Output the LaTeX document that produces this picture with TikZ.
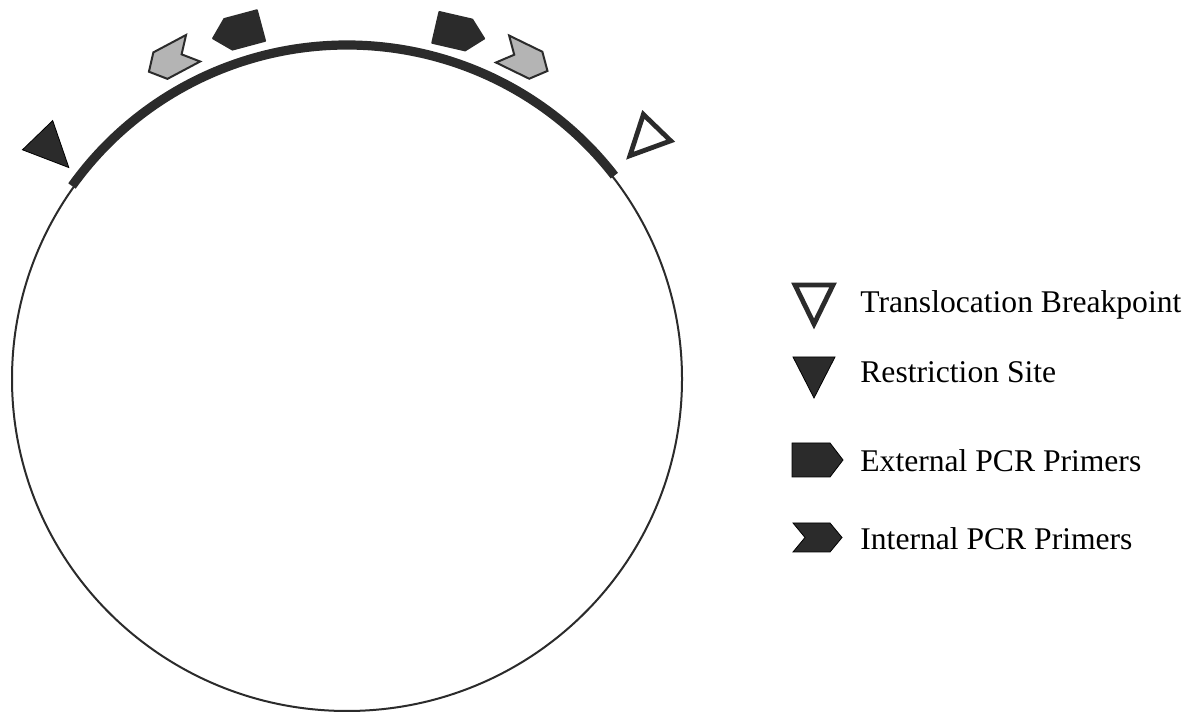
\documentclass[tikz,border=0pt]{standalone}
\usepackage{fontspec}
\setmainfont{Liberation Serif}
\definecolor{ink}{HTML}{2B2B2B}
\definecolor{primgray}{HTML}{B4B4B4}
\begin{document}
\begin{tikzpicture}[x=0.5pt,y=0.5pt,
  restsite/.style={fill=ink},
  breaksite/.style={draw=ink,fill=white,line width=2.4pt},
  extprimer/.style={fill=ink,draw=ink,line width=0.8pt,line join=round},
  intprimer/.style={fill=primgray,draw=ink,line width=1pt},
  legendtext/.style={anchor=base west,inner sep=0pt,font=\fontsize{15.8}{19}\selectfont}]
\useasboundingbox (0,0) rectangle (1197,715);
% plasmid and the cloned stretch
\draw[line width=1pt, color=ink] (347,336) ellipse [x radius=335, y radius=332];
\draw[line width=4.6pt, color=ink] (347,336) ++(144.7:337 and 334)
  arc[start angle=144.7, end angle=37.5, x radius=337, y radius=334];
% sites on the circle
\filldraw[restsite, shift={(48,569)}, rotate=44] (-21,15) -- (21,15) -- (0,-30) -- cycle;
\draw[breaksite, shift={(648,578)}, rotate=-44] (-19,13) -- (19,13) -- (0,-26) -- cycle;
% primers
\filldraw[extprimer, shift={(237,683)}, rotate=195] (-25,-16) -- (9,-16) -- (25,0) -- (9,16) -- (-25,16) -- cycle;
\filldraw[extprimer, shift={(460,682)}, rotate=-13] (-25,-16) -- (9,-16) -- (25,0) -- (9,16) -- (-25,16) -- cycle;
\filldraw[intprimer, shift={(171,655)}, rotate=208] (-25,15) -- (12,15) -- (25,0) -- (12,-15) -- (-25,-15) -- (-12,0) -- cycle;
\filldraw[intprimer, shift={(525,655)}, rotate=-26] (-25,15) -- (12,15) -- (25,0) -- (12,-15) -- (-25,-15) -- (-12,0) -- cycle;
% legend
\draw[breaksite] (795,430) -- (833,430) -- (814,391) -- cycle;
\filldraw[restsite] (793,358) -- (835,358) -- (814,317) -- cycle;
\filldraw[fill=ink] (792,238) -- (830,238) -- (843,255) -- (830,272) -- (792,272) -- cycle;
\filldraw[fill=ink] (793,192) -- (830,192) -- (842,177.5) -- (830,163) -- (793,163) -- (805,177.5) -- cycle;
\node[legendtext] (breaklabel) at (860,402) {Translocation Breakpoint};
\node[legendtext] (restlabel) at (860,332) {Restriction Site};
\node[legendtext] (extlabel) at (860,243) {External PCR Primers};
\node[legendtext] (intlabel) at (860,165) {Internal PCR Primers};
\end{tikzpicture}
\end{document}
